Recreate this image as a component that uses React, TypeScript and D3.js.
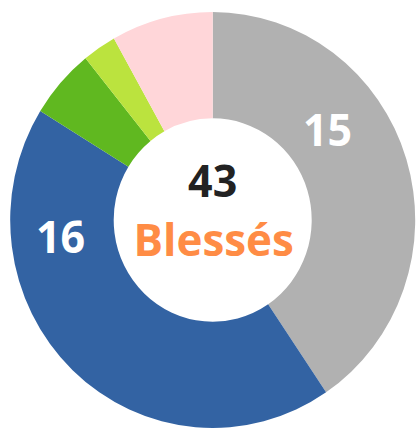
import React from "react";
import * as d3 from "d3";

const categories = ["A", "B", "C", "D", "E"];
const values = [15, 16, 2, 1, 3];
const colors = ["#b1b1b1", "#3363a3", "#60b820", "#bbe33e", "#ffd6d9"];
const centerValue = "43";
const centerLabel = "Blessés";
const shownLabels = ["15", "16"];

const W = 416;
const H = 430;
const CX = 212.7;
const CY = 220;
const SY = 1.027;
const R_OUT = 202.5;
const R_IN = 99;
// label anchor positions (local, unstretched coordinates)
const labelPos: Record<string, [number, number]> = {
  "15": [114.8, -72.3],
  "16": [-152.2, 32.3],
};

export default function App() {
  const pie = d3
    .pie<number>()
    .value((d) => d)
    .sort(null)
    .startAngle(0)
    .endAngle(2 * Math.PI);
  const arcs = pie(values);
  const arc = d3
    .arc<d3.PieArcDatum<number>>()
    .innerRadius(R_IN)
    .outerRadius(R_OUT);

  return (
    <svg
      width={W}
      height={H}
      style={{ position: "absolute", left: 0, top: 0, background: "#fff" }}
      fontFamily="'Open Sans', sans-serif"
    >
      <g transform={`translate(${CX},${CY}) scale(1,${SY})`}>
        {arcs.map((a, i) => (
          <path key={categories[i]} d={arc(a) || ""} fill={colors[i]} />
        ))}
        {shownLabels.map((l) => (
          <text
            key={l}
            x={labelPos[l][0]}
            y={labelPos[l][1]}
            textAnchor="middle"
            fontSize={43}
            fontWeight={700}
            fill="#ffffff"
          >
            {l}
          </text>
        ))}
        <text
          x={0}
          y={-22.4}
          textAnchor="middle"
          fontSize={43}
          fontWeight={700}
          fill="#222222"
        >
          {centerValue}
        </text>
        <text
          x={1}
          y={35.5}
          textAnchor="middle"
          fontSize={44}
          fontWeight={700}
          fill="#ff8c45"
        >
          {centerLabel}
        </text>
      </g>
    </svg>
  );
}
